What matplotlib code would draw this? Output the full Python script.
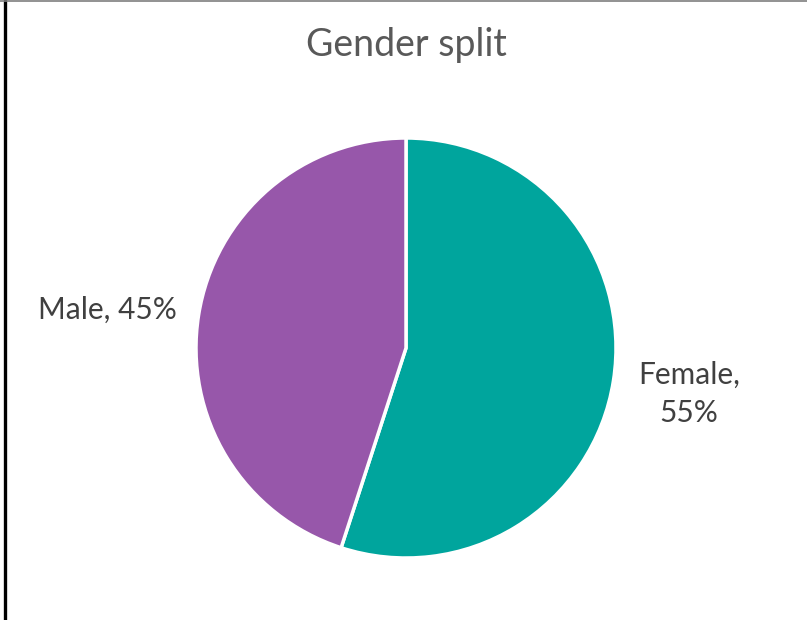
import matplotlib.pyplot as plt
from matplotlib.lines import Line2D

# data
categories = ["Female", "Male"]
shares = [55, 45]
colors = ["#00A59D", "#9757AA"]
label_fmt = {"Female": "{},\n{}%", "Male": "{}, {}%"}

plt.rcParams['font.family'] = ['Lato', 'DejaVu Sans']

W, H = 807, 620
fig = plt.figure(figsize=(W / 100, H / 100), dpi=100)

# pie centred at (406, 348) px, radius 210 px
cx, cy, r = 406, 348, 210
ax = fig.add_axes([(cx - r) / W, (H - cy - r) / H, 2 * r / W, 2 * r / H])
wedges, _ = ax.pie(shares, colors=colors, startangle=90, counterclock=False,
                   wedgeprops=dict(edgecolor="white", linewidth=2.5))
ax.set_xlim(-1, 1)
ax.set_ylim(-1, 1)
ax.set_aspect("equal")

# data labels (positions in pie radius units)
label_pos = {"Female": (1.348, -0.22), "Male": (-1.42, 0.18)}
for cat, val in zip(categories, shares):
    x, y = label_pos[cat]
    ax.text(x, y, label_fmt[cat].format(cat, val),
            ha="center", va="center", fontsize=21.5, color="#404040",
            linespacing=1.45, clip_on=False)

fig.text(cx / W, 1 - 45 / H, "Gender split", ha="center", va="center",
         fontsize=27, color="#595959")

# frame edges
fig.add_artist(Line2D([4.5 / W, 4.5 / W], [0, 1], color="black", linewidth=2.4,
                      transform=fig.transFigure))
fig.add_artist(Line2D([0, 1], [1 - 0.8 / H, 1 - 0.8 / H], color="#7f7f7f",
                      linewidth=1.2, transform=fig.transFigure))

fig.savefig("out.png", dpi=100)
